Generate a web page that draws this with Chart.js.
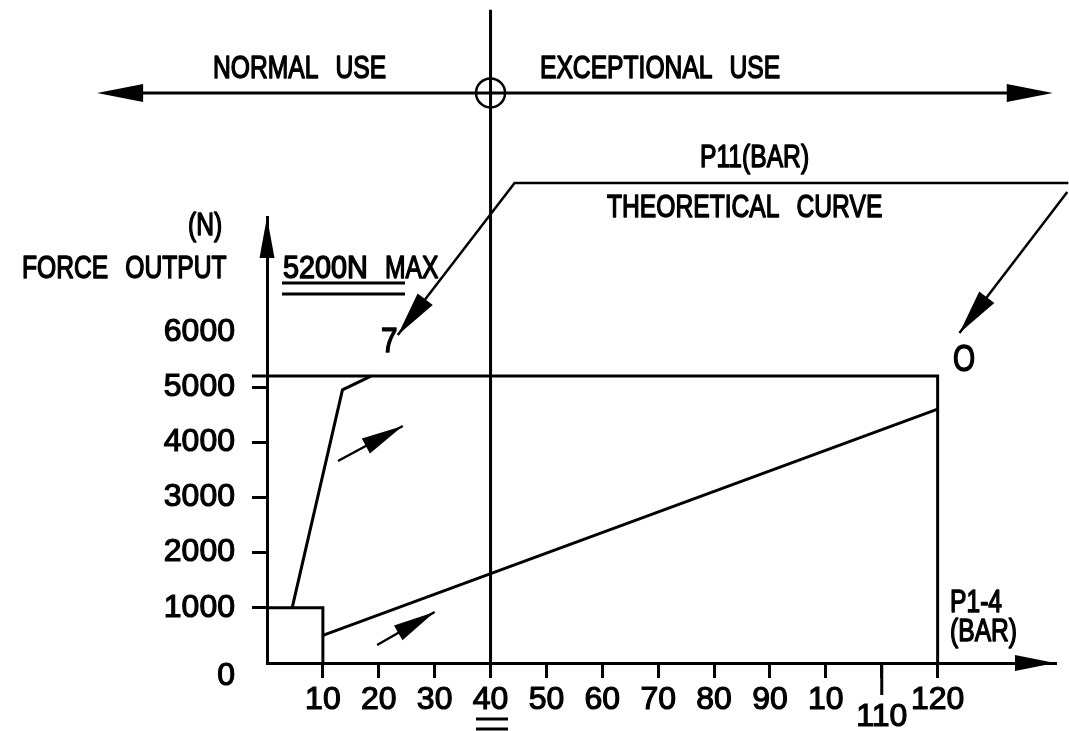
<!DOCTYPE html>
<html><head><meta charset="utf-8">
<script src="https://cdn.jsdelivr.net/npm/chart.js@4"></script>
<style>html,body{margin:0;padding:0;background:#fff;} canvas{display:block}</style>
</head><body>
<canvas id="c" width="1069" height="731"></canvas>
<script>
const FONT = "'Liberation Sans', Arial, sans-serif";
const TEXT_SIZE = 32, TEXT_K = 0.77, WORD_GAP = 17;

// ---- data ----
const xTickValues = [10, 20, 30, 40, 50, 60, 70, 80, 90, 100, 110, 120];
const xTickLabels = ['10', '20', '30', '40', '50', '60', '70', '80', '90', '10', '110', '120'];
const yTickValues = [0, 1000, 2000, 3000, 4000, 5000, 6000];
const yTickLabels = ['0', '1000', '2000', '3000', '4000', '5000', '6000'];

const startBoxX = [0, 10, 10];
const startBoxY = [1000, 1000, 0];
const p11CurveX = [4.5, 13.5, 18.6];
const p11CurveY = [1000, 4950, 5200];
const maxForceX = [-2.7, 120, 120];
const maxForceY = [5200, 5200, 0];
const p14LineX = [10, 120];
const p14LineY = [500, 4600];
const useLimitX = [40, 40];
const useLimitY = [0, 11840];

const X_MAX = 141, Y_MAX = 8084;

function pts(xs, ys) { return xs.map((x, i) => ({ x, y: ys[i] })); }
function lineDs(xs, ys, w) {
  return { data: pts(xs, ys), showLine: true, borderColor: '#000', borderWidth: w || 3,
    pointRadius: 0, tension: 0, clip: false, fill: false };
}

function head(ctx, x1, y1, x2, y2, len, half) {
  const a = Math.atan2(y2 - y1, x2 - x1), c = Math.cos(a), s = Math.sin(a);
  ctx.beginPath();
  ctx.moveTo(x2, y2);
  ctx.lineTo(x2 - len * c + half * s, y2 - len * s - half * c);
  ctx.lineTo(x2 - len * c - half * s, y2 - len * s + half * c);
  ctx.closePath();
  ctx.fill();
}

function words(ctx, text, x, y, size, k) {
  const kk = k || TEXT_K;
  ctx.save();
  ctx.font = (size || TEXT_SIZE) + 'px ' + FONT;
  ctx.textBaseline = 'alphabetic'; ctx.textAlign = 'left';
  ctx.lineWidth = 1.5; ctx.lineJoin = 'round';
  ctx.translate(x, y); ctx.scale(kk, 1);
  let cx = 0;
  text.split(' ').forEach(w => {
    ctx.fillText(w, cx, 0); ctx.strokeText(w, cx, 0);
    cx += ctx.measureText(w).width + WORD_GAP / kk;
  });
  ctx.restore();
}

const annotations = {
  useArrowY: 10332, useArrowX: [-30.4, 140.6],
  leaderLeft: [[143.4, 8700], [44.3, 8700], [23.4, 5945]],
  leaderRight: [[143.2, 8537], [123.9, 5982]],
  riseArrow: [[12.7, 3661], [24.3, 4296]],
  lowArrow: [[19.7, 326], [30.0, 924]]
};

const drawPlugin = {
  id: 'drawing',
  afterDraw(chart) {
    const ctx = chart.ctx, sx = chart.scales.x, sy = chart.scales.y;
    const X = v => sx.getPixelForValue(v), Y = v => sy.getPixelForValue(v);
    ctx.save();
    ctx.fillStyle = '#000'; ctx.strokeStyle = '#000'; ctx.lineCap = 'butt';
    // axis arrowheads
    head(ctx, X(0), Y(0), X(0), Y(Y_MAX), 41, 7.5);
    head(ctx, X(0), Y(0), X(X_MAX), Y(0), 40, 8);
    // longer 110 tick
    ctx.lineWidth = 3;
    ctx.beginPath(); ctx.moveTo(X(110), Y(0)); ctx.lineTo(X(110), Y(0) + 32); ctx.stroke();
    // use arrow
    const ay = Y(annotations.useArrowY);
    const ax0 = X(annotations.useArrowX[0]), ax1 = X(annotations.useArrowX[1]);
    ctx.lineWidth = 3;
    ctx.beginPath(); ctx.moveTo(ax0 + 20, ay); ctx.lineTo(ax1 - 20, ay); ctx.stroke();
    head(ctx, ax1, ay, ax0, ay, 46, 9);
    head(ctx, ax0, ay, ax1, ay, 46, 9);
    ctx.beginPath(); ctx.arc(X(40), ay, 14.5, 0, Math.PI * 2); ctx.lineWidth = 2.5; ctx.stroke();
    // leaders
    function poly(p, w, len, half) {
      ctx.lineWidth = w;
      ctx.beginPath();
      p.forEach((q, i) => { const px = X(q[0]), py = Y(q[1]); i ? ctx.lineTo(px, py) : ctx.moveTo(px, py); });
      ctx.stroke();
      const n = p.length;
      head(ctx, X(p[n - 2][0]), Y(p[n - 2][1]), X(p[n - 1][0]), Y(p[n - 1][1]), len, half);
    }
    poly(annotations.leaderLeft, 2.5, 45, 9.5);
    poly(annotations.leaderRight, 2.5, 45, 9.5);
    poly(annotations.riseArrow, 2.5, 42, 8.5);
    poly(annotations.lowArrow, 2.5, 42, 8.5);
    // texts
    words(ctx, 'NORMAL USE', 213, 78);
    words(ctx, 'EXCEPTIONAL USE', 540, 78);
    words(ctx, 'P11(BAR)', 700, 167);
    words(ctx, 'THEORETICAL CURVE', 607, 217);
    words(ctx, '(N)', 188, 235);
    words(ctx, 'FORCE OUTPUT', 22, 278);
    words(ctx, '5200N', 283, 278, 32, 0.9);
    words(ctx, 'MAX', 385, 278);
    words(ctx, '7', 381, 352, 35, 0.85);
    words(ctx, 'O', 953, 371, 37);
    words(ctx, 'P1-4', 950, 612);
    words(ctx, '(BAR)', 950, 641);
    // underline / double line
    ctx.lineWidth = 3;
    ctx.beginPath();
    ctx.moveTo(282, 283); ctx.lineTo(405, 283);
    ctx.moveTo(282, 294); ctx.lineTo(405, 294);
    ctx.moveTo(476, 719); ctx.lineTo(508, 719);
    ctx.moveTo(476, 729); ctx.lineTo(508, 729);
    ctx.stroke();
    ctx.restore();
  }
};

Chart.defaults.font.family = FONT;
Chart.defaults.color = '#000';

new Chart(document.getElementById('c'), {
  type: 'scatter',
  data: {
    datasets: [
      lineDs(startBoxX, startBoxY),
      lineDs(p11CurveX, p11CurveY),
      lineDs(maxForceX, maxForceY),
      lineDs(p14LineX, p14LineY),
      lineDs(useLimitX, useLimitY)
    ]
  },
  options: {
    responsive: false, animation: false, devicePixelRatio: 1,
    layout: { padding: { left: 0, right: 14, top: 217, bottom: 0 } },
    plugins: { legend: { display: false }, tooltip: { enabled: false } },
    scales: {
      x: {
        type: 'linear', position: 'bottom', min: 0, max: X_MAX,
        afterBuildTicks: s => { s.ticks = xTickValues.map(v => ({ value: v })); },
        afterFit: s => { s.height = 68; },
        border: { display: true, width: 3, color: '#000' },
        grid: { display: true, drawOnChartArea: false, drawTicks: true, tickLength: 15, tickWidth: 3, tickColor: '#000', lineWidth: 3 },
        ticks: {
          autoSkip: false, maxRotation: 0, padding: 3, color: '#000',
          textStrokeColor: '#000', textStrokeWidth: 1.2,
          callback: (v, i) => xTickLabels[i] === '110' ? ['', '110'] : xTickLabels[i],
          font: c => (c.tick && c.tick.value === 110) ? { size: 32, family: FONT, lineHeight: '24px' } : { size: 32, family: FONT }
        }
      },
      y: {
        type: 'linear', position: 'left', min: 0, max: Y_MAX,
        afterBuildTicks: s => { s.ticks = yTickValues.map(v => ({ value: v })); },
        afterFit: s => { s.width = 267; },
        border: { display: true, width: 3, color: '#000' },
        grid: { display: true, drawOnChartArea: false, drawTicks: true, tickLength: 15, tickWidth: 3, lineWidth: 3,
          tickColor: c => (c.tick && c.tick.value > 0 && c.tick.value < 6000) ? '#000' : 'rgba(0,0,0,0)' },
        ticks: {
          autoSkip: false, padding: 17, color: '#000',
          textStrokeColor: '#000', textStrokeWidth: 1.2,
          callback: (v, i) => yTickLabels[i] === '0' ? ['', '0'] : yTickLabels[i],
          font: c => (c.tick && c.tick.value === 0) ? { size: 32, family: FONT, lineHeight: '26px' } : { size: 32, family: FONT }
        }
      }
    }
  },
  plugins: [drawPlugin]
});
</script>
</body></html>
